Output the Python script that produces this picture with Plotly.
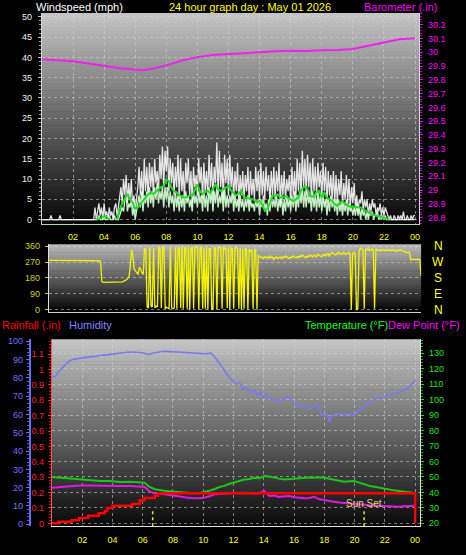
import plotly.graph_objects as go

W, H = 466, 555
FONT = "Liberation Sans, Arial, sans-serif"

# ---------------- data ----------------
HOUR_TICKS = [2, 4, 6, 8, 10, 12, 14, 16, 18, 20, 22, 24]
HOUR_LABELS = ["02", "04", "06", "08", "10", "12", "14", "16", "18", "20", "22", "00"]

FINE_STEP_MIN = 5      # gust, wind speed, direction samples
AVG_STEP_MIN = 10      # average wind samples

gust_mph = [
    0, 0, 0, 0, 0, 0, 0, 1, 0, 0, 0, 0,
    0, 0, 1, 0, 0, 0, 0, 0, 0, 0, 0, 0,
    0, 0, 0, 0, 0, 0, 0, 0, 0, 0, 0, 0,
    0, 0, 0, 0, 0, 3, 0, 2, 4, 1, 3, 0,
    4, 1, 2, 0, 3, 1, 2, 0, 3, 4, 1, 3,
    5, 8, 4, 10, 6, 11, 4, 9, 5, 10, 3, 6,
    2, 5, 8, 13, 6, 12, 4, 15, 7, 13, 5, 14,
    8, 13, 6, 15, 9, 12, 7, 16, 10, 18, 8, 17,
    12, 18, 7, 15, 9, 14, 6, 13, 8, 16, 5, 15,
    7, 12, 5, 14, 9, 15, 6, 12, 4, 13, 8, 11,
    6, 15, 9, 13, 5, 14, 7, 12, 6, 16, 8, 14,
    5, 13, 9, 19, 6, 17, 8, 14, 5, 16, 9, 15,
    6, 16, 8, 13, 5, 12, 7, 14, 4, 11, 6, 12,
    5, 11, 7, 13, 4, 12, 6, 10, 5, 13, 7, 12,
    4, 14, 6, 12, 5, 13, 7, 11, 4, 12, 6, 13,
    5, 12, 7, 14, 4, 11, 6, 12, 5, 10, 7, 11,
    4, 13, 6, 12, 5, 15, 7, 14, 6, 17, 8, 15,
    6, 16, 8, 14, 5, 15, 7, 13, 6, 14, 8, 12,
    5, 14, 7, 13, 4, 12, 6, 11, 5, 12, 4, 11,
    4, 10, 6, 12, 3, 9, 5, 11, 4, 10, 3, 8,
    4, 9, 3, 6, 2, 5, 4, 7, 2, 5, 3, 5,
    1, 4, 2, 5, 3, 4, 1, 3, 2, 4, 1, 3,
    1, 3, 2, 1, 0, 1, 0, 0, 1, 0, 0, 1,
    0, 1, 0, 2, 0, 0, 1, 0, 0, 1, 0, 1,
    1,
]
speed_mph = [
    0, 0, 0, 0, 0, 0, 0, 0, 0, 0, 0, 0,
    0, 0, 0, 0, 0, 0, 0, 0, 0, 0, 0, 0,
    0, 0, 0, 0, 0, 0, 0, 0, 0, 0, 0, 0,
    0, 0, 0, 0, 0, 0, 0, 0, 1, 0, 0, 0,
    1, 0, 0, 0, 1, 0, 0, 0, 1, 0, 0, 0,
    1, 2, 3, 2, 5, 6, 2, 4, 3, 5, 1, 3,
    0, 2, 4, 6, 3, 7, 2, 6, 4, 7, 3, 8,
    4, 7, 3, 8, 5, 9, 4, 7, 5, 8, 3, 8,
    5, 8, 3, 7, 4, 6, 2, 7, 3, 6, 2, 6,
    3, 6, 2, 7, 4, 6, 3, 5, 2, 7, 4, 6,
    3, 7, 4, 6, 2, 7, 3, 6, 2, 8, 4, 7,
    2, 7, 4, 8, 3, 6, 4, 7, 2, 8, 3, 6,
    3, 6, 4, 7, 2, 6, 3, 5, 2, 6, 3, 5,
    2, 5, 3, 6, 2, 5, 3, 4, 2, 5, 3, 5,
    1, 5, 3, 6, 2, 4, 1, 5, 2, 6, 3, 5,
    3, 6, 2, 5, 3, 6, 1, 5, 2, 6, 3, 5,
    2, 6, 3, 7, 2, 6, 3, 7, 4, 8, 3, 7,
    3, 7, 4, 6, 2, 7, 3, 6, 2, 7, 3, 6,
    2, 6, 3, 5, 1, 5, 2, 6, 3, 5, 2, 5,
    1, 5, 2, 4, 1, 4, 2, 5, 1, 4, 2, 3,
    1, 3, 1, 4, 1, 3, 0, 3, 1, 2, 0, 2,
    0, 2, 1, 2, 0, 1, 1, 2, 0, 1, 0, 1,
    0, 1, 0, 0, 0, 0, 0, 0, 0, 0, 0, 0,
    0, 0, 0, 0, 0, 0, 0, 0, 0, 0, 0, 0,
    0,
]
avg_mph = [
    None, None, None, None, None, None,
    None, None, None, None, None, None,
    None, None, None, None, None, None,
    None, None, None, 0, 0.3, 0.5,
    0.8, 0.6, 0, None, None, 0,
    2.5, 4, 5.1, 6.3, 5, 4.2,
    2.7, 3, 3.8, 4.5, 5.4, 6.2,
    6.7, 6.3, 7, 7.5, 8, 8.3,
    9.9, 9.5, 7.9, 7, 6.7, 6,
    5.8, 5.4, 5.6, 5.9, 5.9, 7.5,
    8.7, 7, 6.3, 6.8, 7.1, 6.5,
    7.8, 8.7, 7.5, 7.1, 7.5, 8,
    8.3, 7.2, 6.5, 5.9, 6.5, 7.1,
    5.4, 5.4, 5.2, 5.1, 4.8, 4.2,
    4.6, 3.8, 2.2, 2.7, 4, 5.9,
    5.9, 6.2, 5.5, 5.4, 5.8, 5.4,
    5, 4.6, 5, 5.5, 7.1, 8.1,
    8, 6.7, 5.6, 5.8, 6.8, 7.1,
    5.4, 6.7, 5.4, 5, 4.6, 3.8,
    3.4, 4.2, 4.6, 3.8, 3.4, 3.2,
    3.2, 3.2, 3, 3, 2.5, 2.2,
    1.8, 1.4, 1.2, 1, 0.8, 0.6,
    0.4, 0.2, 0, None, None, None,
    None, None, None, None, None, None,
    None,
]
baro_hours = [0, 1, 2, 3, 4, 5, 6, 6.5, 7, 8, 9, 10, 11, 12, 13, 14, 15, 16, 17, 18, 19, 20,
              21, 22, 23, 24]
baro_in = [29.95, 29.942, 29.935, 29.918, 29.9, 29.885, 29.875, 29.87, 29.878, 29.905, 29.94,
           29.965, 29.98, 29.988, 29.995, 30.0, 30.007, 30.012, 30.01, 30.014, 30.016, 30.024,
           30.048, 30.071, 30.095, 30.102]
BARO_TICKS = [28.8, 28.9, 29.0, 29.1, 29.2, 29.3, 29.4, 29.5, 29.6, 29.7, 29.8, 29.9, 30.0,
              30.1, 30.2]
BARO_LABELS = ["28.8", "28.9", "29", "29.1", "29.2", "29.3", "29.4", "29.5", "29.6", "29.7",
               "29.8", "29.9", "30", "30.1", "30.2"]

dir_deg = [
    280, 280, 280, 280, 280, 280, 280, 280, 280, 280, 280, 280,
    280, 280, 280, 280, 280, 280, 280, 280, 280, 280, 280, 280,
    280, 280, 280, 280, 280, 280, 280, 280, 280, 280, 280, 280,
    280, 280, 280, 278, 272, 160, 155, 155, 155, 155, 155, 155,
    155, 155, 155, 155, 155, 155, 155, 155, 155, 158, 162, 165,
    170, 178, 185, 250, 340, 300, 230, 220, 210, 200, 240, 230,
    210, 200, 350, 340, 15, 10, 355, 20, 15, 350, 10, 20,
    15, 355, 350, 10, 360, 350, 5, 15, 10, 5, 355, 10,
    5, 10, 355, 5, 350, 355, 10, 360, 5, 355, 350, 5,
    355, 0, 350, 355, 5, 350, 360, 355, 0, 350, 355, 5,
    350, 5, 355, 0, 350, 345, 0, 5, 355, 350, 0, 355,
    350, 355, 5, 355, 345, 350, 10, 355, 0, 350, 345, 5,
    350, 355, 340, 5, 350, 0, 345, 5, 350, 340, 0, 345,
    330, 340, 5, 335, 345, 0, 310, 300, 295, 300, 290, 300,
    295, 300, 290, 305, 295, 300, 285, 295, 300, 290, 295, 300,
    290, 300, 295, 305, 300, 295, 290, 300, 295, 305, 300, 295,
    300, 295, 305, 300, 310, 305, 300, 295, 305, 300, 310, 305,
    300, 310, 305, 300, 315, 310, 305, 300, 310, 315, 305, 310,
    320, 305, 315, 325, 320, 315, 310, 320, 325, 315, 320, 315,
    325, 320, 315, 320, 325, 320, 0, 320, 325, 318, 0, 5,
    330, 350, 345, 340, 5, 345, 340, 350, 335, 340, 345, 335,
    5, 345, 340, 335, 340, 335, 338, 340, 335, 340, 338, 335,
    340, 335, 338, 340, 335, 330, 335, 338, 340, 335, 330, 332,
    325, 325, 325, 325, 285, 285, 285, 285, 285, 285, 285, 285,
    190,
]
DIR_TICKS = [0, 90, 180, 270, 360]
COMPASS = ["N", "E", "S", "W", "N"]

hum_hours = [0, 0.25, 0.5, 0.8, 1.2, 1.5, 1.85, 2.2, 2.5, 2.9, 3.2, 3.6, 4.0, 4.5, 5.1, 5.5, 6.0,
             6.4, 6.6, 7.0, 7.4, 7.8, 8.4, 9.0, 9.4, 9.8, 10.2, 10.5, 10.8, 11.1, 11.4, 11.7, 12.0,
             12.2, 12.4, 12.6, 12.8, 13.0, 13.2, 13.4, 13.6, 13.8, 14.0, 14.2, 14.4, 14.6, 14.8,
             15.0, 15.2, 15.4, 15.7, 16.0, 16.2, 16.4, 16.6, 16.8, 17.0, 17.2, 17.4, 17.6, 17.8,
             18.0, 18.2, 18.35, 18.5, 18.7, 19.0, 19.3, 19.6, 19.9, 20.1, 20.3, 20.6, 21.0, 21.3,
             21.6, 22.0, 22.3, 22.6, 23.0, 23.3, 23.6, 24.0]
humidity = [80.5, 81, 84, 86.5, 89.5, 90.3, 90.8, 91, 91.5, 91.8, 92.4, 92.6, 93, 93.3, 94.2, 94,
            93.8, 92.8, 93.4, 94, 94.6, 94.4, 94.2, 94, 93.8, 93.5, 93.2, 93.6, 91, 87.6, 84, 80.5,
            78, 76.5, 77.5, 74, 75, 73, 72, 73.5, 70, 72.5, 69.5, 71, 68.6, 67.5, 68.5, 67, 68, 69,
            69.5, 66.5, 65.5, 65, 64, 64.5, 63.2, 63.5, 65, 65.5, 60, 59.5, 60, 56, 59.5, 60, 60.4,
            60, 60.2, 59.6, 60.5, 62.3, 64.5, 66.9, 68, 69, 69.8, 70.5, 71.3, 72.3, 73.5, 75, 78.5]

td_hours = [0, 0.5, 1.2, 1.85, 2.5, 3.2, 3.8, 4.5, 5.2, 5.8, 6.13, 6.46, 6.8, 7.45, 8.1, 8.6, 9.1,
            9.76, 10.1, 10.4, 10.75, 11.07, 11.4, 11.73, 12.1, 12.4, 12.72, 13.05, 13.38, 13.7,
            14.04, 14.37, 14.7, 15.0, 15.36, 15.7, 16.02, 16.35, 16.68, 17.0, 17.34, 17.67, 18.0,
            18.33, 18.66, 19.0, 19.31, 19.64, 19.97, 20.3, 20.63, 20.96, 21.29, 21.62, 21.95,
            22.28, 22.61, 22.94, 23.27, 23.6, 24.0]
temperature_f = [49.9, 49.5, 49, 48, 47.8, 47.3, 47.3, 46.7, 46.9, 46.7, 46.2, 43.5, 42, 41, 40.3,
                 40.1, 39.6, 39.4, 40, 41, 42.2, 43.5, 44.2, 45.6, 46.5, 47.4, 48.3, 48.6, 49.4,
                 49.2, 50.5, 50.2, 49.4, 48.9, 48.3, 48.6, 49, 49.2, 49.4, 49.6, 49.4, 49.8, 49.4,
                 48.8, 48, 47.4, 46.9, 47.2, 47.3, 46.3, 45.2, 44.3, 43.7, 43, 42.4, 41.8, 41.3,
                 40.9, 40.5, 40.1, 39.6]
dewpoint_f = [43, 43.5, 44.3, 44.5, 44.5, 44.2, 44.1, 44.1, 44.1, 44, 43.5, 40.5, 39.5, 38.8, 37.7,
              37, 36.4, 36.2, 36.6, 37.5, 38.8, 39, 39.2, 39.2, 39.8, 39.5, 39.8, 39.6, 39.2, 39.5,
              40.9, 37.7, 38, 37.1, 37.5, 37.7, 36.9, 36.6, 36.2, 36.4, 37.1, 35.5, 35.2, 34.4,
              33.8, 33.4, 33.2, 32.8, 32.6, 32.4, 32, 31.7, 31.5, 31.3, 31.3, 31.2, 31, 30.7, 31,
              31.3, 31.3]

rain_hours = [0, 0.4, 1.3, 1.8, 2.4, 3.1, 3.5, 3.65, 4.0, 5.3, 5.8, 6.1, 6.8, 7.0, 24.0, 24.0]
rain_in = [0, 0.01, 0.02, 0.035, 0.05, 0.065, 0.08, 0.1, 0.115, 0.125, 0.15, 0.165, 0.18, 0.195,
           0.195, 0]
RAIN_TICKS = [0, 0.1, 0.2, 0.3, 0.4, 0.5, 0.6, 0.7, 0.8, 0.9, 1.0, 1.1, 1.2]
RAIN_LABELS = ["0", "0.1", "0.2", "0.3", "0.4", "0.5", "0.6", "0.7", "0.8", "0.9", "1", "1.1",
               "1.2"]

SUNRISE_H = 6.66
SUNSET_H = 20.63

fine_hours = [i * FINE_STEP_MIN / 60 for i in range(len(gust_mph))]
avg_hours = [i * AVG_STEP_MIN / 60 for i in range(len(avg_mph))]


# ---------------- helpers ----------------
def px(xp):
    return xp / W


def py(yp):
    return 1 - yp / H


GRID = "rgba(215,215,215,0.55)"

fig = go.Figure()

# panel 1: wind + barometer
fig.add_trace(go.Scatter(x=fine_hours, y=speed_mph, mode="lines",
                         line=dict(color="#c4eec4", width=1.4),
                         xaxis="x", yaxis="y", hoverinfo="skip"))
fig.add_trace(go.Scatter(x=fine_hours, y=gust_mph, mode="lines",
                         line=dict(color="rgba(248,248,248,0.9)", width=1.3),
                         xaxis="x", yaxis="y", hoverinfo="skip"))
fig.add_trace(go.Scatter(x=avg_hours, y=avg_mph, mode="lines", connectgaps=False,
                         line=dict(color="#1ee01e", width=2),
                         xaxis="x", yaxis="y", hoverinfo="skip"))
fig.add_trace(go.Scatter(x=baro_hours, y=baro_in, mode="lines",
                         line=dict(color="#f020f0", width=2),
                         xaxis="x", yaxis="y2", hoverinfo="skip"))

# panel 2: wind direction
fig.add_trace(go.Scatter(x=fine_hours, y=dir_deg, mode="lines",
                         line=dict(color="#f4f400", width=1.3),
                         xaxis="x2", yaxis="y3", hoverinfo="skip"))

# panel 3: temperature, dew point, rain, humidity
fig.add_trace(go.Scatter(x=td_hours, y=temperature_f, mode="lines",
                         line=dict(color="#18c818", width=2),
                         xaxis="x3", yaxis="y4", hoverinfo="skip"))
fig.add_trace(go.Scatter(x=td_hours, y=dewpoint_f, mode="lines",
                         line=dict(color="#e018e0", width=2),
                         xaxis="x3", yaxis="y4", hoverinfo="skip"))
fig.add_trace(go.Scatter(x=rain_hours, y=rain_in, mode="lines", line_shape="hv",
                         line=dict(color="#ff0000", width=2.5),
                         xaxis="x3", yaxis="y5", hoverinfo="skip"))
fig.add_trace(go.Scatter(x=hum_hours, y=humidity, mode="lines",
                         line=dict(color="#7a7af0", width=1.6),
                         xaxis="x3", yaxis="y6", hoverinfo="skip"))

# ---------------- background gradients ----------------
shapes = []


def gradient(x0, x1, y0, y1, top, bottom, n=60):
    for k in range(n):
        t = k / (n - 1)
        g = round(top + (bottom - top) * t)
        ya = y0 + (y1 - y0) * k / n
        yb = y0 + (y1 - y0) * (k + 1) / n + 0.6
        shapes.append(dict(type="rect", xref="paper", yref="paper", layer="below",
                           x0=px(x0), x1=px(x1), y0=py(yb), y1=py(ya),
                           line=dict(width=0), fillcolor=f"rgb({g},{g},{g})"))


gradient(42, 420, 10, 223, 196, 8)
gradient(49, 422, 244, 312, 184, 4)
gradient(52, 421, 340, 529, 196, 10)

for h in (SUNRISE_H, SUNSET_H):
    shapes.append(dict(type="line", xref="x3", yref="paper", x0=h, x1=h,
                       y0=py(529), y1=py(511), line=dict(color="#e6e640", width=1.5, dash="dot")))

# ---------------- annotations ----------------
ann = []


def text(s, xp, yp, color, size=11, xanchor="left", yref="paper", yval=None):
    ann.append(dict(text=s, x=px(xp), y=py(yp) if yval is None else yval, xref="paper", yref=yref,
                    xanchor=xanchor, yanchor="middle", showarrow=False,
                    font=dict(color=color, size=size, family=FONT)))


text("Windspeed (mph)", 34, 4, "#ffffff")
text("24 hour graph day : May 01 2026", 251, 4, "#ffff00", xanchor="center")
text("Barometer (.in)", 440, 4, "#ff00ff", xanchor="right")
text("Rainfall (.in)", 0, 326, "#ff0000")
text("Humidity", 67, 326, "#8080ff")
text("Temperature (°F)", 391, 326, "#10ff10", xanchor="right")
text("Dew Point (°F)", 463, 326, "#ff00ff", xanchor="right")
for deg, lab in zip(DIR_TICKS, COMPASS):
    text(lab, 439, 0, "#ffff00", size=12, xanchor="center", yref="y3", yval=deg)
ann.append(dict(text="Sun Set", x=SUNSET_H, xref="x3", y=py(506), yref="paper",
                xanchor="center", yanchor="middle", showarrow=False,
                font=dict(color="#e0d870", size=10, family=FONT)))

# ---------------- axes ----------------
tick_font = lambda c: dict(color=c, size=9, family=FONT)
common = dict(zeroline=False, fixedrange=True)

fig.update_layout(
    width=W, height=H, margin=dict(l=0, r=0, t=0, b=0),
    paper_bgcolor="#000000", plot_bgcolor="rgba(0,0,0,0)",
    showlegend=False, shapes=shapes, annotations=ann,
    xaxis=dict(domain=[px(42), px(420)], range=[0, 24.26], anchor="y",
               tickmode="array", tickvals=HOUR_TICKS, ticktext=HOUR_LABELS,
               tickfont=tick_font("#ffff00"), ticks="", ticklabelstandoff=5,
               showgrid=True, gridcolor=GRID, griddash="dot",
               showline=True, linecolor="#a8e0a8", **common),
    yaxis=dict(domain=[py(223), py(10)], range=[-0.98, 50.98], anchor="x",
               tick0=0, dtick=5, tickfont=tick_font("#f0f0f0"),
               ticks="outside", ticklen=3, tickcolor="#c8c8c8", ticklabelstandoff=4,
               minor=dict(dtick=1, ticks="outside", ticklen=2, tickcolor="#9a9a9a"),
               showgrid=True, gridcolor=GRID, griddash="dot",
               showline=True, linecolor="#d8d8d8", **common),
    yaxis2=dict(overlaying="y", side="right", anchor="x", range=[28.757, 30.286],
                tickmode="array", tickvals=BARO_TICKS, ticktext=BARO_LABELS,
                tickfont=tick_font("#ff00ff"), ticks="outside", ticklen=3, tickcolor="#ff00ff",
                ticklabelstandoff=3,
                minor=dict(dtick=0.02, tick0=0, ticks="outside", ticklen=2, tickcolor="#c000c0"),
                showgrid=False, showline=True, linecolor="#d8d8d8", **common),
    xaxis2=dict(domain=[px(49), px(422)], range=[0, 24], anchor="y3",
                showticklabels=False, ticks="", showgrid=False,
                showline=True, linecolor="#d0d0d0", **common),
    yaxis3=dict(domain=[py(312), py(244)], range=[-11, 371], anchor="x2",
                tickmode="array", tickvals=DIR_TICKS, tickfont=tick_font("#d0d020"),
                ticks="outside", ticklen=3, tickcolor="#d0d020", ticklabelstandoff=3,
                showgrid=True, gridcolor=GRID, griddash="dot",
                showline=True, linecolor="#e0e0e0", **common),
    xaxis3=dict(domain=[px(52), px(421)], range=[0, 24.33], anchor="y4",
                tickmode="array", tickvals=HOUR_TICKS, ticktext=HOUR_LABELS,
                tickfont=tick_font("#ffff00"), ticks="", ticklabelstandoff=5,
                showgrid=True, gridcolor=GRID, griddash="dot",
                showline=True, linecolor="#e0e0e0", **common),
    yaxis4=dict(domain=[py(529), py(340)], range=[18.08, 138.95], anchor="x3", side="right",
                tick0=0, dtick=10, tickfont=tick_font("#20e020"),
                ticks="outside", ticklen=3, tickcolor="#20e020", ticklabelstandoff=3,
                minor=dict(dtick=2, ticks="outside", ticklen=2, tickcolor="#10b010"),
                showgrid=True, gridcolor=GRID, griddash="dot",
                showline=True, linecolor="#e0e0e0", **common),
    yaxis5=dict(overlaying="y4", side="left", anchor="x3", range=[-0.019, 1.196],
                tickmode="array", tickvals=RAIN_TICKS, ticktext=RAIN_LABELS,
                tickfont=tick_font("#ff2020"), ticks="outside", ticklen=3, tickcolor="#ff2020",
                ticklabelstandoff=2,
                minor=dict(dtick=0.02, tick0=0, ticks="outside", ticklen=2, tickcolor="#d01010"),
                showgrid=False, showline=True, linecolor="#ff5050", **common),
    yaxis6=dict(overlaying="y4", side="left", anchor="free", position=px(30),
                range=[-1.1, 101.1], tick0=0, dtick=10, tickfont=tick_font("#7070ff"),
                ticks="outside", ticklen=3, tickcolor="#7070ff", ticklabelstandoff=1,
                minor=dict(dtick=2, ticks="outside", ticklen=2, tickcolor="#5a5ae0"),
                showgrid=False, showline=True, linecolor="#6a6aff", linewidth=2, **common),
)

fig.write_html("out.html", config={"displayModeBar": False},
               post_script="document.body.style.margin='0';")
